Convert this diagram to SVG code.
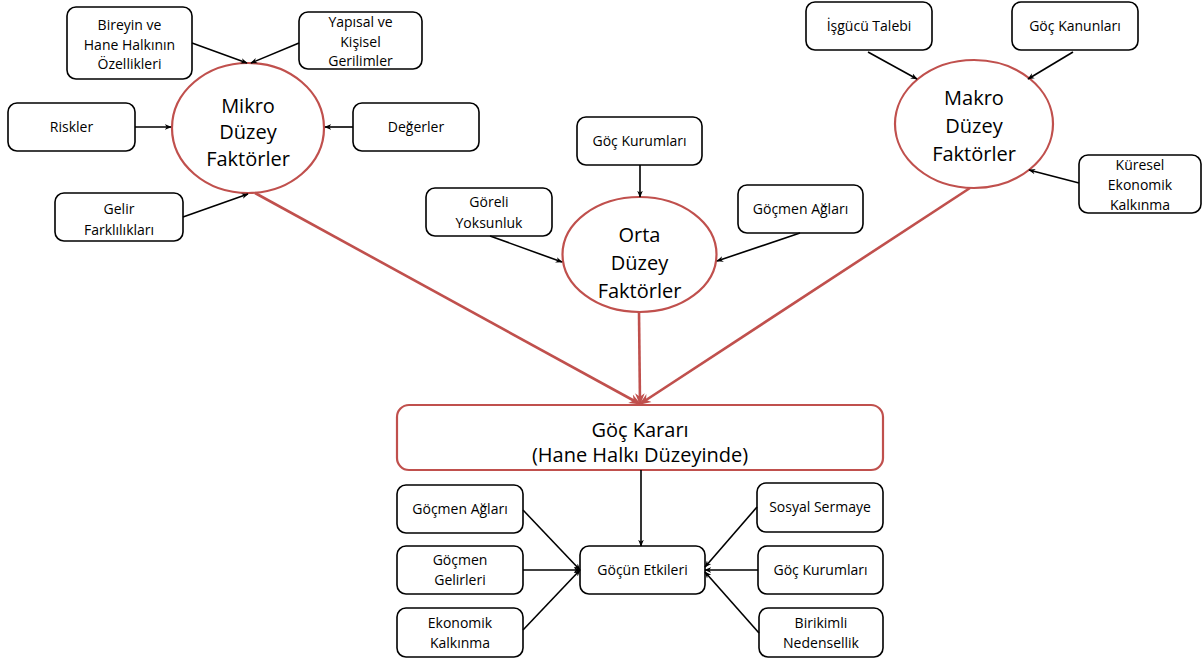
<svg xmlns="http://www.w3.org/2000/svg" width="1203" height="661" viewBox="0 0 1203 661">
<style>
.box{fill:#fff;stroke:#000;stroke-width:1.6}
.ell{fill:#fff;stroke:#C0504D;stroke-width:2.2}
.big{fill:#fff;stroke:#C0504D;stroke-width:2.2}
.t{font-family:"Open Sans","Noto Sans",sans-serif;font-size:14px;fill:#000;text-anchor:middle}
.tb{font-family:"Open Sans","Noto Sans",sans-serif;font-size:20px;fill:#000;text-anchor:middle}
.a{stroke:#000;stroke-width:1.6;fill:none;marker-end:url(#ah)}
.r{stroke:#C0504D;stroke-width:2.6;fill:none;marker-end:url(#rh)}
</style>
<defs>
<marker id="ah" viewBox="0 0 10 10" refX="9" refY="5" markerWidth="7" markerHeight="7" orient="auto" markerUnits="userSpaceOnUse">
<path d="M0,1 L10,5 L0,9 L3,5 Z" fill="#000"/>
</marker>
<marker id="rh" viewBox="0 0 10 10" refX="9" refY="5" markerWidth="12" markerHeight="12" orient="auto" markerUnits="userSpaceOnUse">
<path d="M0,1 L10,5 L0,9 L3,5 Z" fill="#C0504D"/>
</marker>
</defs>
<rect width="1203" height="661" fill="#fff"/>
<g id="mikro"><ellipse class="ell" cx="248" cy="128" rx="76" ry="65"/>
<text class="tb" x="248" y="113">Mikro</text><text class="tb" x="248" y="139">Düzey</text><text class="tb" x="248" y="166">Faktörler</text></g>
<g id="orta"><ellipse class="ell" cx="639.5" cy="254.5" rx="77" ry="57.5"/>
<text class="tb" x="639.5" y="242">Orta</text><text class="tb" x="639.5" y="270">Düzey</text><text class="tb" x="639.5" y="298">Faktörler</text></g>
<g id="makro"><ellipse class="ell" cx="974" cy="124" rx="79" ry="64"/>
<text class="tb" x="974" y="105">Makro</text><text class="tb" x="974" y="133">Düzey</text><text class="tb" x="974" y="161">Faktörler</text></g>
<g id="bireyin"><rect class="box" x="67" y="7" width="125" height="72" rx="9"/>
<text class="t" x="129.5" y="30">Bireyin ve</text><text class="t" x="129.5" y="50">Hane Halkının</text><text class="t" x="129.5" y="69">Özellikleri</text></g>
<g id="yapisal"><rect class="box" x="299" y="12" width="123" height="57" rx="9"/>
<text class="t" x="360.5" y="27">Yapısal ve</text><text class="t" x="360.5" y="47">Kişisel</text><text class="t" x="360.5" y="66">Gerilimler</text></g>
<g id="riskler"><rect class="box" x="8" y="103" width="127" height="48" rx="9"/>
<text class="t" x="71.5" y="132">Riskler</text></g>
<g id="degerler"><rect class="box" x="353" y="103" width="126" height="48" rx="9"/>
<text class="t" x="416" y="132">Değerler</text></g>
<g id="gelir"><rect class="box" x="55" y="193" width="128" height="48" rx="9"/>
<text class="t" x="119" y="214">Gelir</text><text class="t" x="119" y="235">Farklılıkları</text></g>
<g id="isgucu"><rect class="box" x="806" y="2" width="126" height="48" rx="9"/>
<text class="t" x="869" y="31">İşgücü Talebi</text></g>
<g id="kanun"><rect class="box" x="1012" y="2" width="126" height="48" rx="9"/>
<text class="t" x="1075" y="31">Göç Kanunları</text></g>
<g id="kuresel"><rect class="box" x="1079" y="155" width="122" height="58" rx="9"/>
<text class="t" x="1140" y="170">Küresel</text><text class="t" x="1140" y="190">Ekonomik</text><text class="t" x="1140" y="210">Kalkınma</text></g>
<g id="kurum1"><rect class="box" x="577" y="117" width="125" height="48" rx="9"/>
<text class="t" x="639.5" y="146">Göç Kurumları</text></g>
<g id="goreli"><rect class="box" x="426" y="188" width="126" height="48" rx="9"/>
<text class="t" x="489" y="207">Göreli</text><text class="t" x="489" y="228">Yoksunluk</text></g>
<g id="ag1"><rect class="box" x="738" y="185" width="125" height="48" rx="9"/>
<text class="t" x="800.5" y="214">Göçmen Ağları</text></g>
<g id="karar"><rect class="big" x="397" y="405" width="486" height="65" rx="12"/>
<text class="tb" x="640" y="437">Göç Kararı</text><text class="tb" x="640" y="462">(Hane Halkı Düzeyinde)</text></g>
<g id="ag2"><rect class="box" x="397" y="485" width="126" height="48" rx="9"/>
<text class="t" x="460" y="514">Göçmen Ağları</text></g>
<g id="gelirleri"><rect class="box" x="397" y="546" width="126" height="48" rx="9"/>
<text class="t" x="460" y="565">Göçmen</text><text class="t" x="460" y="585">Gelirleri</text></g>
<g id="ekonomik"><rect class="box" x="397" y="608" width="126" height="49" rx="9"/>
<text class="t" x="460" y="628">Ekonomik</text><text class="t" x="460" y="648">Kalkınma</text></g>
<g id="etkiler"><rect class="box" x="580" y="546" width="125" height="48" rx="9"/>
<text class="t" x="642.5" y="575">Göçün Etkileri</text></g>
<g id="sosyal"><rect class="box" x="757" y="483" width="126" height="49" rx="9"/>
<text class="t" x="820" y="512">Sosyal Sermaye</text></g>
<g id="kurum2"><rect class="box" x="758" y="546" width="125" height="48" rx="9"/>
<text class="t" x="820.5" y="575">Göç Kurumları</text></g>
<g id="birikimli"><rect class="box" x="759" y="608" width="124" height="49" rx="9"/>
<text class="t" x="821" y="628">Birikimli</text><text class="t" x="821" y="648">Nedensellik</text></g>
<g id="connectors">
<line class="a" x1="192" y1="43" x2="247" y2="63"/>
<line class="a" x1="299" y1="43" x2="251" y2="63"/>
<line class="a" x1="135" y1="127" x2="171" y2="127"/>
<line class="a" x1="353" y1="127" x2="325" y2="127"/>
<line class="a" x1="183" y1="217" x2="248" y2="194"/>
<line class="a" x1="868" y1="52" x2="917" y2="79"/>
<line class="a" x1="1073" y1="52" x2="1028" y2="79"/>
<line class="a" x1="1079" y1="183" x2="1029" y2="170"/>
<line class="a" x1="640" y1="165" x2="640" y2="197"/>
<line class="a" x1="490" y1="236" x2="562" y2="262"/>
<line class="a" x1="800" y1="233" x2="717" y2="261"/>
<line class="r" x1="255" y1="193" x2="640" y2="404"/>
<line class="r" x1="639" y1="312" x2="640" y2="404"/>
<line class="r" x1="970" y1="188" x2="640" y2="404"/>
<line class="a" x1="641" y1="470" x2="641" y2="546"/>
<line class="a" x1="523" y1="510" x2="580" y2="570"/>
<line class="a" x1="523" y1="570" x2="580" y2="570"/>
<line class="a" x1="523" y1="630" x2="580" y2="570"/>
<line class="a" x1="757" y1="507" x2="705" y2="567"/>
<line class="a" x1="758" y1="570" x2="705" y2="570"/>
<line class="a" x1="759" y1="633" x2="705" y2="572"/>
</g>
</svg>
